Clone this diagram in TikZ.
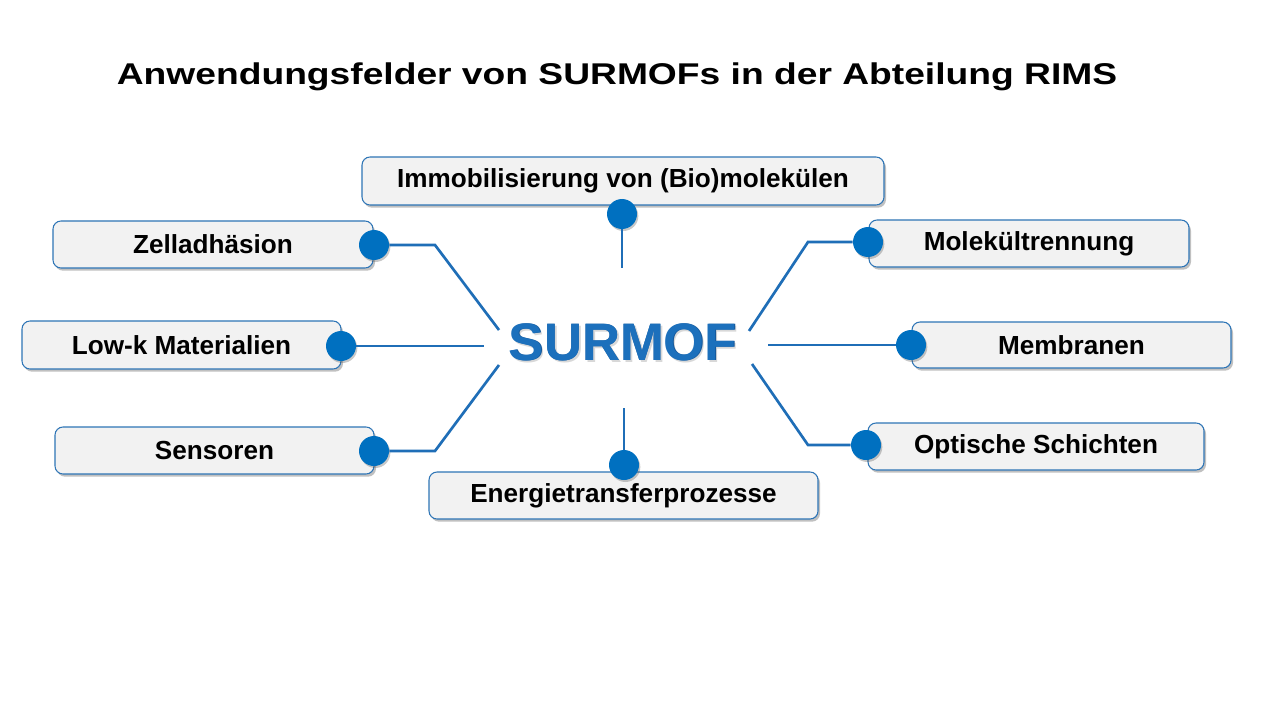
\documentclass[tikz,border=0pt]{standalone}
\usepackage{fontspec}
\setmainfont{Liberation Sans}
\usetikzlibrary{shadows}
\definecolor{dotblue}{HTML}{0070C0}
\definecolor{lineblue}{HTML}{1F6EB7}
\definecolor{boxborder}{HTML}{2E75B6}
\definecolor{boxfill}{HTML}{F2F2F2}
\definecolor{surblue}{HTML}{1C70BC}
\definecolor{surdark}{HTML}{15589A}
\begin{document}
\begin{tikzpicture}[x=0.75pt,y=-0.75pt,
  fieldbox/.style={draw=boxborder, line width=0.8pt, fill=boxfill, rounded corners=6pt,
    font=\bfseries\fontsize{19.6}{22}\selectfont, align=center, inner sep=0pt,
    drop shadow={shadow xshift=1.5pt, shadow yshift=-2pt, opacity=0.35, fill=black!70}},
  bw/.style={minimum width=#1*0.75pt},
  bh/.style={minimum height=#1*0.75pt},
  bluedot/.style={circle, fill=dotblue, minimum size=22.5pt, inner sep=0pt,
    drop shadow={shadow xshift=1pt, shadow yshift=-1.5pt, opacity=0.3, fill=black!70}},
  conn/.style={draw=lineblue, line width=2pt},
  surtext/.style={font=\bfseries\fontsize{39.5}{42}\selectfont}]
\fill[white] (0,0) rectangle (1280,720);
\useasboundingbox (0,0) rectangle (1280,720);

% title
\node[anchor=base, font=\bfseries\fontsize{22.5}{24}\selectfont] (title) at (617,84.5)
  {\scalebox{1.24}[1]{Anwendungsfelder von SURMOFs in der Abteilung RIMS}};

% centre
\node[surtext, text=black!30, opacity=0.5] (surshadow) at (625,344.5) {SURMOF};
\node[surtext, text=surdark] (surdk) at (623.6,342.6) {SURMOF};
\node[surtext, text=surblue] (sur) at (623,342) {SURMOF};

% connector coordinates
\coordinate (zelB) at (435,245);  \coordinate (zelE) at (499,330);
\coordinate (lowE) at (484,346);
\coordinate (senB) at (435,451);  \coordinate (senE) at (499,365);
\coordinate (immE) at (622,268);
\coordinate (eneE) at (624,408);
\coordinate (molB) at (808,242);  \coordinate (molE) at (749,331);
\coordinate (memE) at (768,345);
\coordinate (optB) at (808,445);  \coordinate (optE) at (752,364);

% boxes
\node[fieldbox, bw=522, bh=48] (imm) at (623,181) {Immobilisierung von (Bio)molekülen};
\node[fieldbox, bw=320, bh=47] (zel) at (213,244.5) {Zelladhäsion};
\node[fieldbox, bw=319, bh=48] (low) at (181.5,345) {Low-k Materialien};
\node[fieldbox, bw=319, bh=47] (sen) at (214.5,450.5) {Sensoren};
\node[fieldbox, bw=320, bh=47] (mol) at (1029,243.5) {Molekültrennung};
\node[fieldbox, bw=319, bh=46] (mem) at (1071.5,345) {Membranen};
\node[fieldbox, bw=336, bh=47] (opt) at (1036,446.5) {Optische Schichten};
\node[fieldbox, bw=389, bh=47] (ene) at (623.5,495.5) {Energietransferprozesse};

% dots
\node[bluedot] (dimm) at (622,214) {};
\node[bluedot] (dzel) at (374,245) {};
\node[bluedot] (dlow) at (341,346) {};
\node[bluedot] (dsen) at (374,451) {};
\node[bluedot] (dmol) at (868,242) {};
\node[bluedot] (dmem) at (911,345) {};
\node[bluedot] (dopt) at (866,445) {};
\node[bluedot] (dene) at (624,465) {};

% connectors
\draw[conn] (dzel.east) -- (zelB) -- (zelE);
\draw[conn] (dlow.east) -- (lowE);
\draw[conn] (dsen.east) -- (senB) -- (senE);
\draw[conn] (dimm.south) -- (immE);
\draw[conn] (dene.north) -- (eneE);
\draw[conn] (dmol.west) -- (molB) -- (molE);
\draw[conn] (dmem.west) -- (memE);
\draw[conn] (dopt.west) -- (optB) -- (optE);
\end{tikzpicture}
\end{document}
